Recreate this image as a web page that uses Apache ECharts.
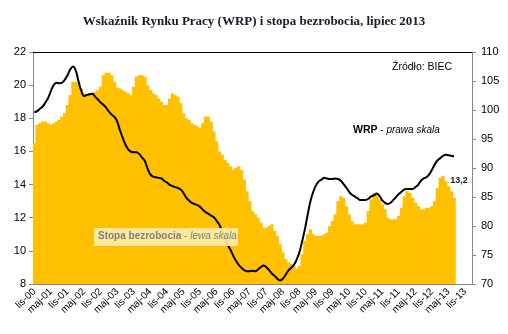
<!DOCTYPE html>
<html>
<head>
<meta charset="utf-8">
<script src="https://cdn.jsdelivr.net/npm/echarts@6/dist/echarts.min.js"></script>
<style>
html,body{margin:0;padding:0;background:#fff;}
#c{width:508px;height:334px;}
</style>
</head>
<body>
<div id="c"></div>
<script>
// Month abbreviations used in the tick labels
const monthNames = ['sty','lut','mar','kwi','maj','cze','lip','sie','wrz','paź','lis','gru'];
// Axis covers lis-00 .. sty-14 (data end at lip-13)
const startYear = 2000, startMonth = 10, nCategories = 159;
const categories = [];
for (let k = 0; k < nCategories; k++) {
  const m = (startMonth + k) % 12;
  const y = startYear + Math.floor((startMonth + k) / 12);
  categories.push(monthNames[m] + '-' + String(y % 100).padStart(2, '0'));
}

// Stopa bezrobocia (%), lewa skala — lis-00 .. lip-13
const unemployment = [
  16.5,17.6,17.7,17.8,17.8,17.7,17.6,17.7,17.8,17.9,18.1,18.3,
  18.8,19.4,20.2,20.2,20.05,19.8,19.5,19.4,19.4,19.5,19.6,19.7,
  19.9,20.6,20.75,20.75,20.6,20.2,19.85,19.8,19.7,19.6,19.5,19.4,
  19.9,20.5,20.6,20.6,20.5,20.0,19.7,19.5,19.4,19.2,19.0,18.8,
  18.8,19.2,19.5,19.4,19.3,18.9,18.3,18.0,17.9,17.7,17.6,17.5,
  17.4,17.7,18.1,18.1,17.8,17.2,16.6,16.0,15.8,15.5,15.3,15.1,
  14.9,15.0,15.1,14.9,14.3,13.6,13.0,12.4,12.2,12.0,11.7,11.4,
  11.4,11.5,11.6,11.2,10.9,10.4,9.9,9.5,9.3,9.2,9.1,8.9,
  9.1,9.8,10.6,11.0,11.3,11.0,10.9,10.9,10.9,11.0,11.1,11.5,
  11.8,12.2,13.0,13.3,13.2,12.7,12.2,11.8,11.6,11.6,11.6,11.6,
  11.7,12.4,13.1,13.5,13.4,13.1,12.8,12.5,12.0,11.9,11.9,11.9,
  12.1,12.6,13.3,13.6,13.5,13.2,12.9,12.7,12.5,12.5,12.6,12.6,
  12.7,13.0,13.8,14.4,14.5,14.2,13.9,13.6,13.2
];

// WRP (Wskaźnik Rynku Pracy), prawa skala — lis-00 .. lip-13
const wrp = [
  99.6,99.8,100.2,100.6,101.3,102.1,103.3,104.3,104.7,104.6,104.7,105.2,
  106.0,107.0,107.5,106.8,104.9,103.3,102.4,102.6,102.7,102.8,102.3,101.8,
  101.3,100.9,100.4,99.7,99.2,98.8,98.0,96.5,95.2,94.0,93.2,92.8,
  92.7,92.7,92.4,91.8,91.2,89.9,88.9,88.5,88.4,88.3,88.2,87.8,
  87.5,87.1,86.9,86.7,86.55,86.3,85.7,84.9,84.4,84.0,83.8,83.6,
  83.3,82.8,82.4,82.1,81.8,81.5,80.9,80.2,79.1,77.9,76.8,75.9,
  74.9,74.0,73.3,72.8,72.4,72.2,72.2,72.3,72.2,72.5,72.9,73.2,
  72.9,72.4,71.8,71.4,70.9,70.6,70.9,71.6,72.3,72.8,73.3,74.2,
  75.5,77.4,79.5,82.0,84.3,85.9,87.0,87.7,88.0,88.3,88.2,88.1,
  88.1,88.2,88.1,87.8,87.2,86.6,85.9,85.4,85.1,84.8,84.5,84.5,
  84.5,84.7,85.1,85.3,85.6,85.2,84.4,84.0,83.8,84.0,84.5,85.0,
  85.5,85.9,86.3,86.4,86.4,86.4,86.7,87.1,87.8,88.2,88.4,88.9,
  89.7,90.6,91.3,91.7,92.1,92.3,92.2,92.1,92.0
];

const leftTicks = {min: 8, max: 22, step: 2};
const rightTicks = {min: 70, max: 110, step: 5};

const barData = unemployment.map((v, i) => i === unemployment.length - 1
  ? {value: v, label: {show: true}} : v);

const axisGray = '#868686';
const barColor = '#FFC000';
const sansFont = 'Liberation Sans, Arial, sans-serif';
const chart = echarts.init(document.getElementById('c'), null, {renderer: 'canvas'});
chart.setOption({
  animation: false,
  backgroundColor: '#ffffff',
  title: {
    text: 'Wskaźnik Rynku Pracy (WRP) i stopa bezrobocia, lipiec 2013',
    left: 'center', top: 10,
    textStyle: {fontFamily: 'Liberation Serif', fontWeight: 'bold', fontSize: 13, color: '#1a1a2a'}
  },
  grid: {left: 33, right: 36, top: 52, bottom: 50, containLabel: false},
  xAxis: [{
    type: 'category', data: categories, boundaryGap: true,
    axisLine: {lineStyle: {color: axisGray, width: 1}},
    axisTick: {interval: 5, length: 4, lineStyle: {color: axisGray}},
    axisLabel: {interval: 5, rotate: 45, margin: 6, fontSize: 10,
      fontFamily: sansFont, color: '#000'},
    splitLine: {show: false}
  }, {
    type: 'category', data: categories, position: 'top', boundaryGap: true,
    axisLine: {lineStyle: {color: '#000', width: 1}},
    axisTick: {show: false}, axisLabel: {show: false}, splitLine: {show: false}
  }],
  yAxis: [{
    type: 'value', min: leftTicks.min, max: leftTicks.max, interval: leftTicks.step,
    position: 'left',
    axisLine: {show: true, lineStyle: {color: axisGray}},
    axisTick: {show: true, length: 4, lineStyle: {color: axisGray}},
    axisLabel: {fontSize: 11, fontFamily: sansFont, color: '#000', margin: 7},
    splitLine: {show: false}
  }, {
    type: 'value', min: rightTicks.min, max: rightTicks.max, interval: rightTicks.step,
    position: 'right',
    axisLine: {show: true, lineStyle: {color: axisGray}},
    axisTick: {show: true, length: 4, lineStyle: {color: axisGray}},
    axisLabel: {fontSize: 11, fontFamily: sansFont, color: '#000', margin: 9},
    splitLine: {show: false}
  }],
  series: [{
    name: 'Stopa bezrobocia', type: 'bar', xAxisIndex: 0, yAxisIndex: 0,
    data: barData, barWidth: '125%', barGap: '-100%',
    itemStyle: {color: barColor},
    label: {show: false, position: 'top', distance: 13, offset: [5, 0],
      fontSize: 9, fontWeight: 'bold', fontFamily: sansFont, color: '#222',
      formatter: p => String(p.value).replace('.', ',')},
    z: 2
  }, {
    name: 'WRP', type: 'line', xAxisIndex: 0, yAxisIndex: 1,
    data: wrp, smooth: 0.4, symbol: 'none',
    lineStyle: {color: '#000', width: 2},
    z: 3
  }],
  graphic: [{
    type: 'text', left: 392, top: 62, z: 100,
    style: {text: 'Źródło: BIEC', fontSize: 10.5, fontFamily: sansFont, fill: '#000'}
  }, {
    type: 'text', left: 353, top: 125, z: 100,
    style: {
      text: '{b|WRP} - {i|prawa skala}',
      fontSize: 10, fontFamily: sansFont, fill: '#000',
      rich: {
        b: {fontWeight: 'bold', fontSize: 10.5, fontFamily: sansFont, fill: '#000'},
        i: {fontStyle: 'italic', fontSize: 10, fontFamily: sansFont, fill: '#000'}
      }
    }
  }, {
    type: 'rect', left: 94, top: 228, z: 100, zlevel: 1,
    shape: {x: 0, y: 0, width: 144, height: 18},
    style: {fill: 'rgba(255,236,170,0.9)'}
  }, {
    type: 'text', left: 98, top: 231, z: 101, zlevel: 1,
    style: {
      text: '{b|Stopa bezrobocia} - {i|lewa skala}',
      fontSize: 10, fontFamily: sansFont, fill: '#7b7f86',
      rich: {
        b: {fontWeight: 'bold', fontSize: 10, fontFamily: sansFont, fill: '#7b7f86'},
        i: {fontStyle: 'italic', fontSize: 10, fontFamily: sansFont, fill: '#7b7f86'}
      }
    }
  }]
});
</script>
</body>
</html>
